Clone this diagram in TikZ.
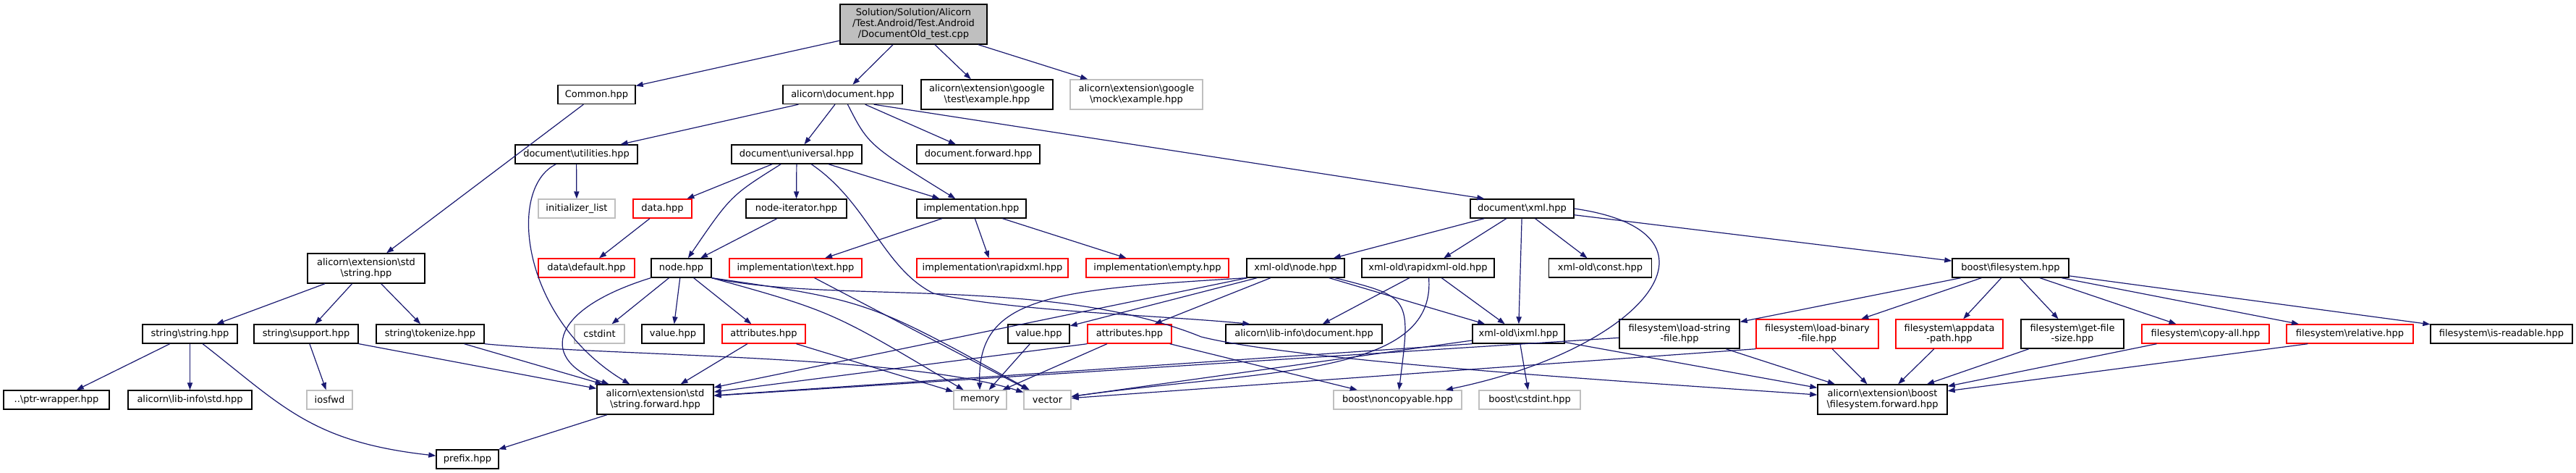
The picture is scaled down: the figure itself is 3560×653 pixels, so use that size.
\documentclass[tikz,border=0pt]{standalone}
\usepackage{fontspec}
\setmainfont{DejaVu Sans}
\usepackage{tikz}
\usetikzlibrary{arrows.meta}
\definecolor{bleunuit}{HTML}{191970}
\definecolor{grisdoxy}{HTML}{BFBFBF}
\newcommand{\bsl}{\textbackslash}

\begin{document}
\begin{tikzpicture}[x=0.5pt, y=-0.5pt,
  fichier/.style={draw=black, line width=0.7pt, fill=white, font=\fontsize{6.5}{7.3}\selectfont, inner sep=0pt, align=center, minimum height=13pt},
  rouge/.style={fichier, draw=red},
  gris/.style={fichier, draw=grisdoxy},
  racine/.style={fichier, fill=grisdoxy, font=\fontsize{6.5}{7.5}\selectfont},
  larg/.style={minimum width=#1*0.5pt},
  haut/.style={minimum height=#1*0.5pt},
  fleche/.style={draw=bleunuit, line width=0.6pt, -{Triangle[length=5pt, width=3.6pt]}}
]
  \useasboundingbox (0,0) rectangle (3560,653);
  % Fichier de test
  \node[racine, larg=203, haut=55] (test) at (1262.5,33.5) {Solution/Solution/Alicorn\\/Test.Android/Test.Android\\/DocumentOld\_test.cpp};
  % Niveau 1
  \node[fichier, larg=107] (common) at (824.5,130.5) {Common.hpp};
  \node[fichier, larg=165] (adoc) at (1164.5,130.5) {alicorn\bsl document.hpp};
  \node[fichier, larg=182, haut=41] (gtest) at (1364,130.5) {alicorn\bsl extension\bsl google\\\bsl test\bsl example.hpp};
  \node[gris, larg=183, haut=41] (gmock) at (1570.5,130.5) {alicorn\bsl extension\bsl google\\\bsl mock\bsl example.hpp};
  % Niveau 2
  \node[fichier, larg=169] (dutil) at (796.5,213) {document\bsl utilities.hpp};
  \node[fichier, larg=180] (duniv) at (1101,213) {document\bsl universal.hpp};
  \node[fichier, larg=170] (dfwd) at (1352,213) {document.forward.hpp};
  % Niveau 3
  \node[gris, larg=106] (initlist) at (797,288) {initializer\_list};
  \node[rouge, larg=81] (data) at (915.5,288) {data.hpp};
  \node[fichier, larg=139] (nodeit) at (1100.5,288) {node-iterator.hpp};
  \node[fichier, larg=151] (impl) at (1342.5,288) {implementation.hpp};
  \node[fichier, larg=143] (dxml) at (2103.5,288) {document\bsl xml.hpp};
  % Niveau 4
  \node[fichier, larg=162, haut=41] (sstring) at (506,370.5) {alicorn\bsl extension\bsl std\\\bsl string.hpp};
  \node[rouge, larg=133] (datadef) at (810.5,370) {data\bsl default.hpp};
  \node[fichier, larg=83] (node) at (941.5,370) {node.hpp};
  \node[rouge, larg=183] (impltext) at (1099.5,370) {implementation\bsl text.hpp};
  \node[rouge, larg=209] (implrapid) at (1371.5,370) {implementation\bsl rapidxml.hpp};
  \node[rouge, larg=197] (implempty) at (1599.5,370) {implementation\bsl empty.hpp};
  \node[fichier, larg=135] (xnode) at (1790.5,370) {xml-old\bsl node.hpp};
  \node[fichier, larg=183] (xrapid) at (1973.5,370) {xml-old\bsl rapidxml-old.hpp};
  \node[fichier, larg=142] (xconst) at (2211.5,370) {xml-old\bsl const.hpp};
  \node[fichier, larg=161] (bfs) at (2778.5,370) {boost\bsl filesystem.hpp};
  % Niveau 5
  \node[fichier, larg=131] (sstr) at (262.5,461) {string\bsl string.hpp};
  \node[fichier, larg=144] (support) at (423,461) {string\bsl support.hpp};
  \node[fichier, larg=149] (tokenize) at (594.5,461) {string\bsl tokenize.hpp};
  \node[gris, larg=69] (cstdint) at (828.5,461) {cstdint};
  \node[fichier, larg=86] (value) at (930,461) {value.hpp};
  \node[rouge, larg=115] (attr) at (1055.5,461) {attributes.hpp};
  \node[fichier, larg=85] (xvalue) at (1435.5,461) {value.hpp};
  \node[rouge, larg=116] (xattr) at (1561,461) {attributes.hpp};
  \node[fichier, larg=216] (libdoc) at (1802,461) {alicorn\bsl lib-info\bsl document.hpp};
  \node[fichier, larg=127] (ixml) at (2098.5,461) {xml-old\bsl ixml.hpp};
  \node[fichier, larg=166, haut=40] (loadstr) at (2321,461) {filesystem\bsl load-string\\-file.hpp};
  \node[rouge, larg=169, haut=40] (loadbin) at (2511.5,461) {filesystem\bsl load-binary\\-file.hpp};
  \node[rouge, larg=148, haut=40] (appdata) at (2694,461) {filesystem\bsl appdata\\-path.hpp};
  \node[fichier, larg=142, haut=40] (getsize) at (2864,461) {filesystem\bsl get-file\\-size.hpp};
  \node[rouge, larg=176] (copyall) at (3048,461) {filesystem\bsl copy-all.hpp};
  \node[rouge, larg=175] (relative) at (3247.5,461) {filesystem\bsl relative.hpp};
  \node[fichier, larg=196] (isread) at (3457,461) {filesystem\bsl is-readable.hpp};
  % Niveau 6
  \node[fichier, larg=146] (ptrwrap) at (78,552) {..\bsl ptr-wrapper.hpp};
  \node[fichier, larg=171] (libstd) at (262.5,552) {alicorn\bsl lib-info\bsl std.hpp};
  \node[gris, larg=63] (iosfwd) at (455.5,552) {iosfwd};
  \node[fichier, larg=161, haut=41] (strfwd) at (905.5,551.5) {alicorn\bsl extension\bsl std\\\bsl string.forward.hpp};
  \node[gris, larg=73] (memory) at (1354.5,552) {memory};
  \node[gris, larg=65] (vector) at (1447.5,552) {vector};
  \node[gris, larg=177] (noncopy) at (1931.5,552) {boost\bsl noncopyable.hpp};
  \node[gris, larg=140] (bcstdint) at (2114,552) {boost\bsl cstdint.hpp};
  \node[fichier, larg=179, haut=41] (fsfwd) at (2601.5,551.5) {alicorn\bsl extension\bsl boost\\\bsl filesystem.forward.hpp};
  % Niveau 7
  \node[fichier, larg=86] (prefix) at (646,634) {prefix.hpp};

  % Inclusions directes
  \foreach \a/\b in {test/common, test/adoc, test/gtest, test/gmock, common/sstring,
      adoc/dutil, adoc/duniv, adoc/dfwd, dutil/initlist,
      duniv/data, duniv/nodeit, duniv/impl, data/datadef, nodeit/node,
      impl/impltext, impl/implrapid, impl/implempty,
      node/cstdint, node/value, node/attr, impltext/vector, attr/strfwd, attr/memory,
      sstring/sstr, sstring/support, sstring/tokenize, sstr/ptrwrap, sstr/libstd,
      support/iosfwd, support/strfwd, tokenize/strfwd, strfwd/prefix,
      dxml/xnode, dxml/xrapid, dxml/ixml, dxml/xconst, dxml/bfs,
      xnode/xvalue, xnode/xattr, xnode/ixml, xnode/strfwd, xrapid/libdoc, xrapid/ixml,
      xvalue/memory, xattr/memory, xattr/noncopy,
      ixml/bcstdint, ixml/fsfwd, ixml/vector, loadstr/strfwd, loadstr/fsfwd,
      loadbin/fsfwd, appdata/fsfwd, getsize/fsfwd, copyall/fsfwd,
      bfs/loadstr, bfs/loadbin, bfs/appdata, bfs/getsize, bfs/copyall, bfs/relative, bfs/isread}
    \draw[fleche] (\a) -- (\b);
  \draw[fleche] ([xshift=-20pt]adoc.south east) -- ([xshift=10pt]dxml.north west);
  \draw[fleche] (xattr.south west) -- (strfwd);
  \draw[fleche] (ixml.south west) -- (strfwd);
  \draw[fleche] (loadbin.south west) -- (vector);
  \draw[fleche] ([xshift=15pt]relative.south west) -- (fsfwd);
  % Liens courbes
  \draw[fleche] (adoc) .. controls (1200,200) .. (impl);
  \draw[fleche] (dutil) .. controls (700,260) and (720,440) .. (strfwd);
  \draw[fleche] (duniv) .. controls (1010,270) .. (node);
  \draw[fleche] (duniv) .. controls (1200,280) and (1220,370) .. (1290,405) .. controls (1400,430) and (1600,435) .. ([xshift=17pt]libdoc.north west);
  \draw[fleche] (node.south west) .. controls (750,430) and (750,500) .. (strfwd);
  \draw[fleche] (node.south east) .. controls (1150,430) .. (memory);
  \draw[fleche] (node.south east) .. controls (1200,415) .. (vector);
  \draw[fleche] (node.south east) .. controls (1150,420) and (1450,380) .. (1660,465) .. controls (1800,500) and (2300,530) .. (fsfwd);
  \draw[fleche] (tokenize.south east) .. controls (850,492) and (1250,490) .. (vector);
  \draw[fleche] (sstr) .. controls (390,560) and (430,610) .. (prefix);
  \draw[fleche] (xnode.south west) .. controls (1450,400) and (1350,410) .. (memory);
  \draw[fleche] (xnode) .. controls (1950,410) .. (noncopy);
  \draw[fleche] (xrapid) .. controls (1985,520) and (1750,510) .. (vector);
  \draw[fleche] (dxml.east) .. controls (2400,320) and (2280,480) .. (noncopy);
\end{tikzpicture}
\end{document}
